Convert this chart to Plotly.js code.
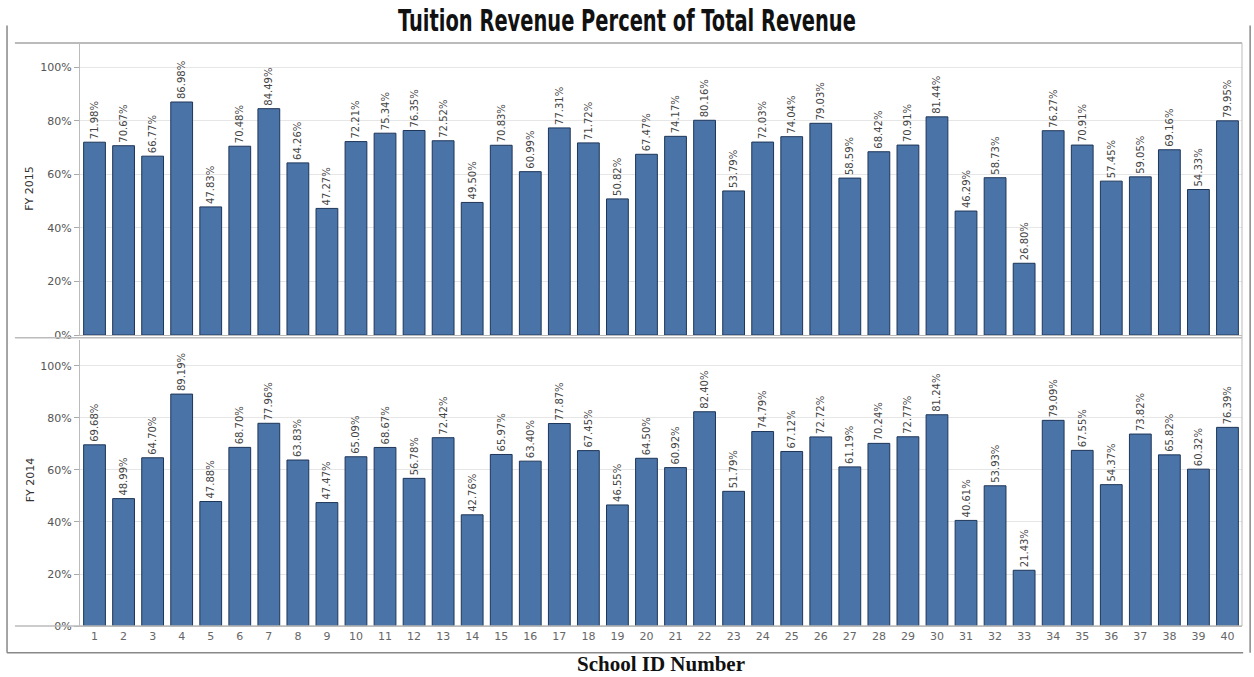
<!DOCTYPE html>
<html>
<head>
<meta charset="utf-8">
<script src="https://cdn.plot.ly/plotly-3.0.1.min.js"></script>
<style>html,body{margin:0;padding:0;background:#fff;}#chart{width:1254px;height:677px;}</style>
</head>
<body>
<div id="chart"></div>
<script>
const schoolIds = ["1","2","3","4","5","6","7","8","9","10","11","12","13","14","15","16","17","18","19","20",
  "21","22","23","24","25","26","27","28","29","30","31","32","33","34","35","36","37","38","39","40"];
const fy2015 = [71.98,70.67,66.77,86.98,47.83,70.48,84.49,64.26,47.27,72.21,75.34,76.35,72.52,49.50,70.83,60.99,77.31,71.72,50.82,67.47,
  74.17,80.16,53.79,72.03,74.04,79.03,58.59,68.42,70.91,81.44,46.29,58.73,26.80,76.27,70.91,57.45,59.05,69.16,54.33,79.95];
const fy2014 = [69.68,48.99,64.70,89.19,47.88,68.70,77.96,63.83,47.47,65.09,68.67,56.78,72.42,42.76,65.97,63.40,77.87,67.45,46.55,64.50,
  60.92,82.40,51.79,74.79,67.12,72.72,61.19,70.24,72.77,81.24,40.61,53.93,21.43,79.09,67.55,54.37,73.82,65.82,60.32,76.39];
const panelLabels = ["FY 2015", "FY 2014"];
const yTickVals = [0,20,40,60,80,100];
const yTickText = ["0%","20%","40%","60%","80%","100%"];

const barColor = "#4a74a8";
const barLine = "#1d3558";
const fmt = v => v.toFixed(2) + "%";

function barTrace(vals, xa, ya) {
  return {
    type: "bar", x: schoolIds, y: vals, xaxis: xa, yaxis: ya,
    width: 0.75,
    marker: {color: barColor, line: {color: barLine, width: 1}},
    text: vals.map(fmt), textposition: "outside", textangle: -90,
    constraintext: "none", cliponaxis: false,
    textfont: {family: "DejaVu Sans", size: 10, color: "#444"},
    hoverinfo: "x+y"
  };
}

const data = [barTrace(fy2015, "x2", "y"), barTrace(fy2014, "x", "y2")];

const yCommon = {
  tickvals: yTickVals, ticktext: yTickText, ticks: "outside", ticklen: 5, tickcolor: "#aaa",
  tickfont: {family: "DejaVu Sans", size: 11, color: "#555"},
  showgrid: true, gridcolor: "#e6e6e6", gridwidth: 1,
  zeroline: false, showline: true, linecolor: "#bbb", linewidth: 1, fixedrange: true
};

const layout = {
  width: 1254, height: 677,
  margin: {l: 80, r: 12, t: 43, b: 51},
  paper_bgcolor: "#fff", plot_bgcolor: "#fff",
  showlegend: false, bargap: 0.25,
  title: {text: "Tuition Revenue Percent of Total Revenue", x: 0.5, xanchor: "center", y: 0.97, yanchor: "middle",
    font: {family: "DejaVu Sans Condensed, DejaVu Sans, sans-serif", size: 31, color: "#111", weight: "bold"}},
  xaxis: {domain: [0,1], anchor: "y2", type: "category", range: [-0.5, 39.5],
    tickfont: {family: "DejaVu Sans", size: 11, color: "#666"}, ticks: "", showgrid: false,
    showline: true, linecolor: "#bbb", fixedrange: true,
    title: {text: "School ID Number", standoff: 14,
      font: {family: "Liberation Serif, serif", size: 21, color: "#111", weight: "bold"}}},
  xaxis2: {domain: [0,1], anchor: "y", type: "category", range: [-0.5, 39.5], matches: "x",
    showticklabels: false, ticks: "", showgrid: false, showline: true, linecolor: "#bbb", fixedrange: true},
  yaxis: Object.assign({}, yCommon, {domain: [0.499, 1], anchor: "x2", range: [0, 109]}),
  yaxis2: Object.assign({}, yCommon, {domain: [0, 0.4906], anchor: "x", range: [0, 110]}),
  annotations: [
    {text: panelLabels[0], xref: "paper", yref: "paper", x: -0.043, y: 0.75, xanchor: "center", yanchor: "middle",
      textangle: -90, showarrow: false, font: {family: "DejaVu Sans", size: 11, color: "#333"}},
    {text: panelLabels[1], xref: "paper", yref: "paper", x: -0.043, y: 0.25, xanchor: "center", yanchor: "middle",
      textangle: -90, showarrow: false, font: {family: "DejaVu Sans", size: 11, color: "#333"}}
  ],
  shapes: [
    {type: "line", xref: "paper", yref: "paper", x0: -0.056, x1: 1, y0: 1, y1: 1, line: {color: "#bbb", width: 2}},
    {type: "line", xref: "paper", yref: "paper", x0: -0.056, x1: 1, y0: 0.4945, y1: 0.4945, line: {color: "#bbb", width: 1.5}},
    {type: "line", xref: "paper", yref: "paper", x0: -0.056, x1: 1, y0: 0, y1: 0, line: {color: "#bbb", width: 1.5}},
    {type: "line", xref: "paper", yref: "paper", x0: 1, x1: 1, y0: 0, y1: 1, line: {color: "#bbb", width: 1}},
    {type: "line", xref: "paper", yref: "paper", x0: -0.0628, x1: -0.0628, y0: -0.046, y1: 1.03, line: {color: "#888", width: 1.5}},
    {type: "line", xref: "paper", yref: "paper", x0: -0.0628, x1: 1.001, y0: -0.046, y1: -0.046, line: {color: "#888", width: 1.5}},
    {type: "line", xref: "paper", yref: "paper", x0: 1.007, x1: 1.007, y0: -0.046, y1: 1.03, line: {color: "#888", width: 1.5}}
  ]
};

Plotly.newPlot("chart", data, layout, {displayModeBar: false, staticPlot: true}).then(function () {
  // condense the title horizontally to match the narrow display face of the original
  const t = document.querySelector("#chart .gtitle");
  if (t && t.getBBox) {
    const bb = t.getBBox();
    const targetW = 458;
    if (bb.width > 0) {
      const s = Math.min(1, targetW / bb.width);
      const cx = bb.x + bb.width / 2;
      t.setAttribute("transform", "translate(" + cx + ",0) scale(" + s + ",1) translate(" + (-cx) + ",0)");
    }
  }
});
</script>
</body>
</html>
